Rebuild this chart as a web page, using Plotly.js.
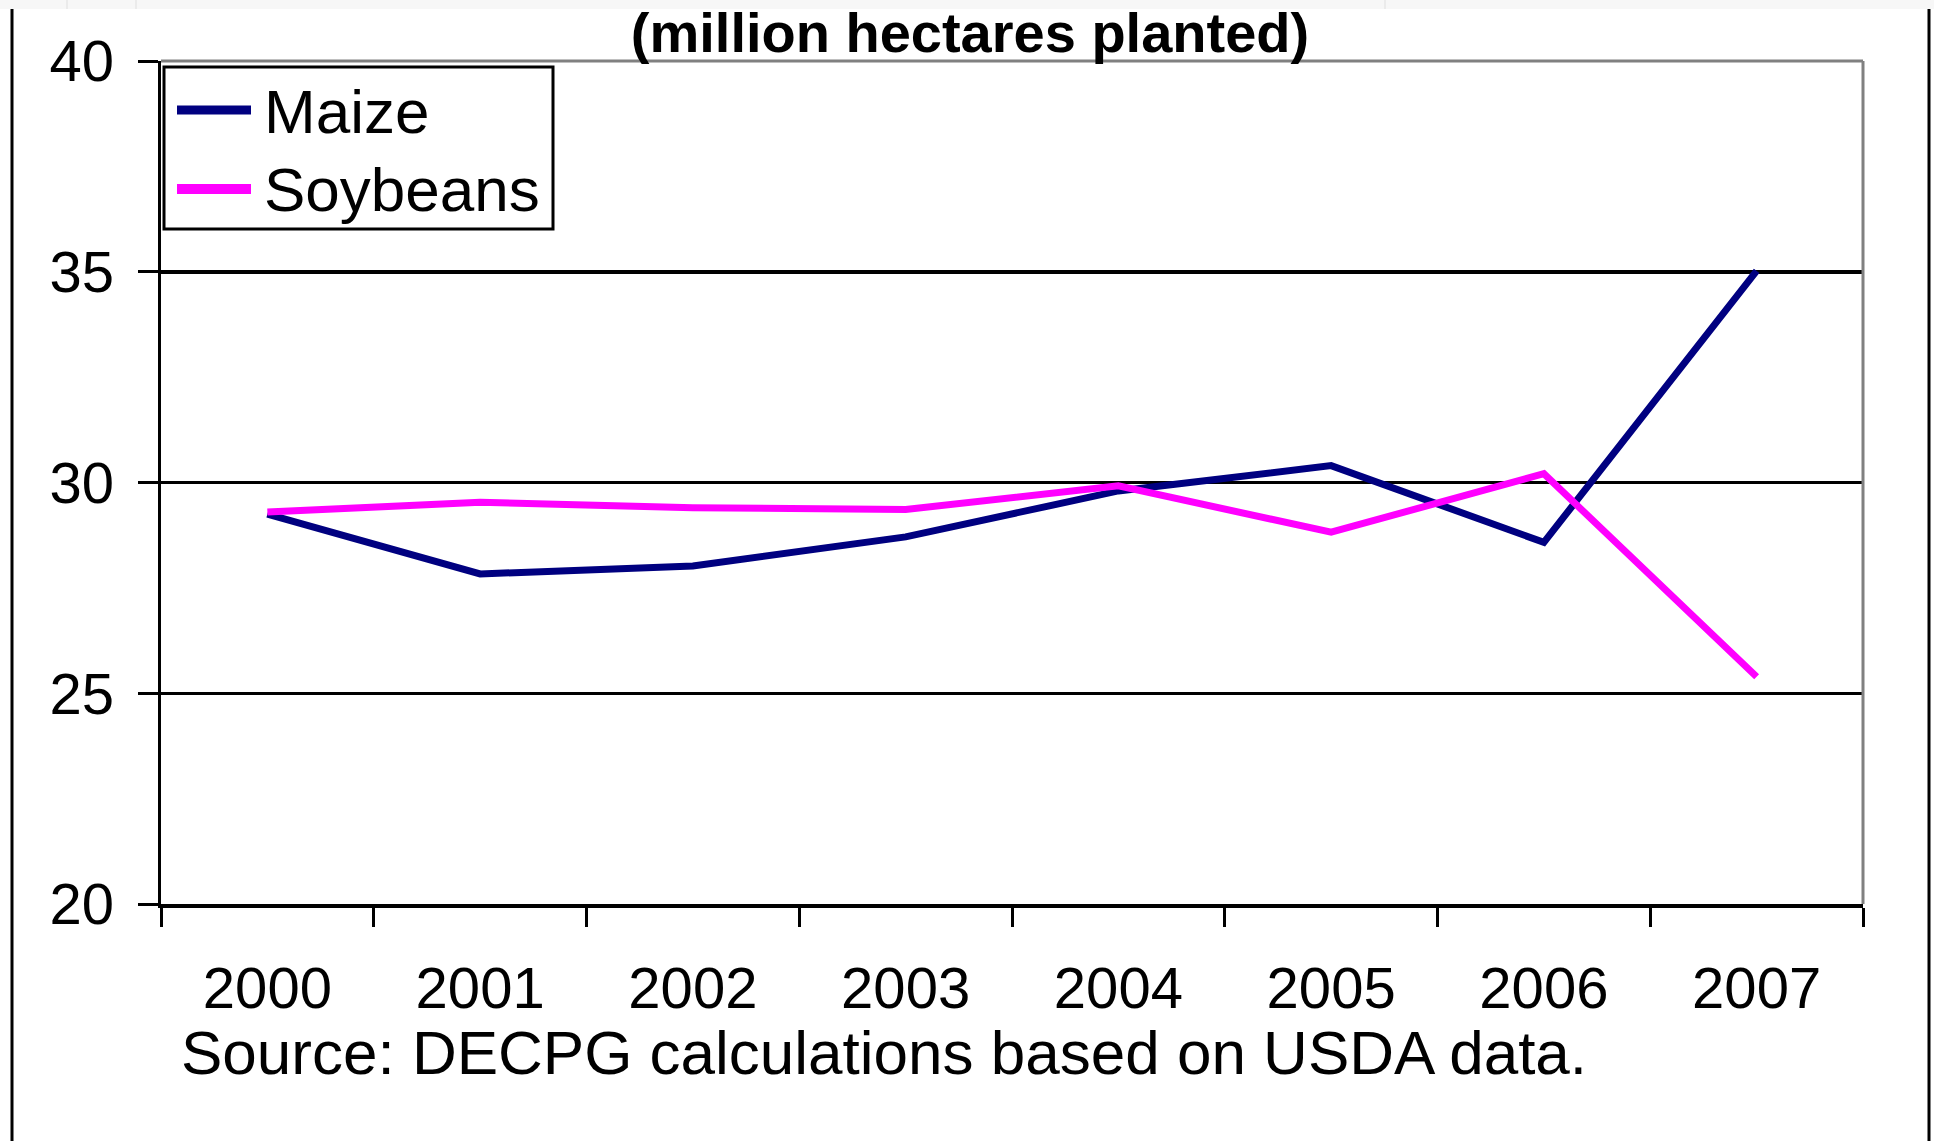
<!DOCTYPE html>
<html>
<head>
<meta charset="utf-8">
<script src="https://cdn.plot.ly/plotly-3.0.1.min.js"></script>
<style>
  html, body { margin: 0; padding: 0; background: #ffffff; }
  #chart { width: 1934px; height: 1141px; }
</style>
</head>
<body>
<div id="chart"></div>
<script>
// Area planted, million hectares
const years = ['2000', '2001', '2002', '2003', '2004', '2005', '2006', '2007'];
const maize = [29.25, 27.83, 28.02, 28.71, 29.8, 30.4, 28.58, 35.02];
const soybeans = [29.3, 29.53, 29.4, 29.36, 29.92, 28.82, 30.21, 25.39];
const seriesNames = ['Maize', 'Soybeans'];
const yTicks = [20, 25, 30, 35, 40];

const W = 1934, H = 1141;
const M = { l: 161, r: 71, t: 61, b: 237 };
const PW = W - M.l - M.r, PH = H - M.t - M.b;
const FONT = 'Liberation Sans, Arial, Helvetica, sans-serif';
const NAVY = '#000080', MAGENTA = '#ff00ff';

// pixel position on the page -> paper coordinates
const px = x => (x - M.l) / PW;
const py = y => (M.t + PH - y) / PH;

const traces = [
  { x: years, y: maize, name: seriesNames[0], type: 'scatter', mode: 'lines',
    line: { color: NAVY, width: 7 } },
  { x: years, y: soybeans, name: seriesNames[1], type: 'scatter', mode: 'lines',
    line: { color: MAGENTA, width: 7 } }
];

const shapes = [
  // window strip and frame
  { type: 'rect', xref: 'paper', yref: 'paper', x0: px(0), x1: px(W), y0: py(0), y1: py(9),
    fillcolor: '#f7f7f7', line: { width: 0 }, layer: 'below' },
  { type: 'line', xref: 'paper', yref: 'paper', x0: px(67), x1: px(67), y0: py(0), y1: py(9),
    line: { color: '#ebebeb', width: 2 } },
  { type: 'line', xref: 'paper', yref: 'paper', x0: px(136), x1: px(136), y0: py(0), y1: py(9),
    line: { color: '#ebebeb', width: 2 } },
  { type: 'line', xref: 'paper', yref: 'paper', x0: px(1385), x1: px(1385), y0: py(0), y1: py(9),
    line: { color: '#ebebeb', width: 2 } },
  { type: 'line', xref: 'paper', yref: 'paper', x0: px(12), x1: px(12), y0: py(9), y1: py(H),
    line: { color: '#000000', width: 3 } },
  { type: 'line', xref: 'paper', yref: 'paper', x0: px(1929), x1: px(1929), y0: py(9), y1: py(H),
    line: { color: '#000000', width: 3 } },
  // grey top and right plot border
  { type: 'line', xref: 'paper', yref: 'paper', x0: 0, x1: 1, y0: 1, y1: 1,
    line: { color: '#808080', width: 3 } },
  { type: 'line', xref: 'paper', yref: 'paper', x0: 1, x1: 1, y0: 0, y1: 1,
    line: { color: '#808080', width: 3 } },
  // legend box and samples
  { type: 'rect', xref: 'paper', yref: 'paper', x0: px(164), x1: px(553), y0: py(229), y1: py(67),
    fillcolor: '#ffffff', line: { color: '#000000', width: 3 } },
  { type: 'line', xref: 'paper', yref: 'paper', x0: px(177), x1: px(251), y0: py(110), y1: py(110),
    line: { color: NAVY, width: 9 } },
  { type: 'line', xref: 'paper', yref: 'paper', x0: px(177), x1: px(251), y0: py(189), y1: py(189),
    line: { color: MAGENTA, width: 10 } }
];

const annotations = [
  { xref: 'paper', yref: 'paper', x: px(262), y: py(111), xanchor: 'left', yanchor: 'middle',
    text: seriesNames[0], showarrow: false, font: { family: FONT, size: 62, color: '#000000' } },
  { xref: 'paper', yref: 'paper', x: px(262), y: py(190), xanchor: 'left', yanchor: 'middle',
    text: seriesNames[1], showarrow: false, font: { family: FONT, size: 62, color: '#000000' } },
  { xref: 'paper', yref: 'paper', x: px(179), y: py(1052), xanchor: 'left', yanchor: 'middle',
    text: 'Source: DECPG calculations based on USDA data.', showarrow: false,
    font: { family: FONT, size: 62, color: '#000000' } }
];

const layout = {
  width: W, height: H,
  margin: M,
  paper_bgcolor: '#ffffff',
  plot_bgcolor: '#ffffff',
  showlegend: false,
  title: {
    text: '(million hectares planted)',
    x: 970 / W, xanchor: 'center', xref: 'container',
    y: 1 - 32 / H, yanchor: 'middle', yref: 'container',
    font: { family: FONT, size: 56, color: '#000000', weight: 'bold' }
  },
  xaxis: {
    type: 'category', categoryorder: 'array', categoryarray: years,
    range: [-0.5, years.length - 0.5],
    tickson: 'boundaries', ticks: 'outside', ticklen: 19, tickwidth: 3, tickcolor: '#000000',
    showline: true, linecolor: '#000000', linewidth: 3.5,
    showgrid: false, zeroline: false,
    ticklabelstandoff: 31,
    tickfont: { family: FONT, size: 58, color: '#000000' }
  },
  yaxis: {
    range: [20, 40], tickvals: yTicks, ticktext: yTicks.map(String),
    ticks: 'outside', ticklen: 20, tickwidth: 3, tickcolor: '#000000',
    showline: true, linecolor: '#000000', linewidth: 3.5,
    showgrid: true, gridcolor: '#000000', gridwidth: 3.5, zeroline: false,
    ticklabelstandoff: 12,
    tickfont: { family: FONT, size: 58, color: '#000000' }
  },
  shapes: shapes,
  annotations: annotations
};

Plotly.newPlot('chart', traces, layout, { staticPlot: true, displayModeBar: false });
</script>
</body>
</html>
